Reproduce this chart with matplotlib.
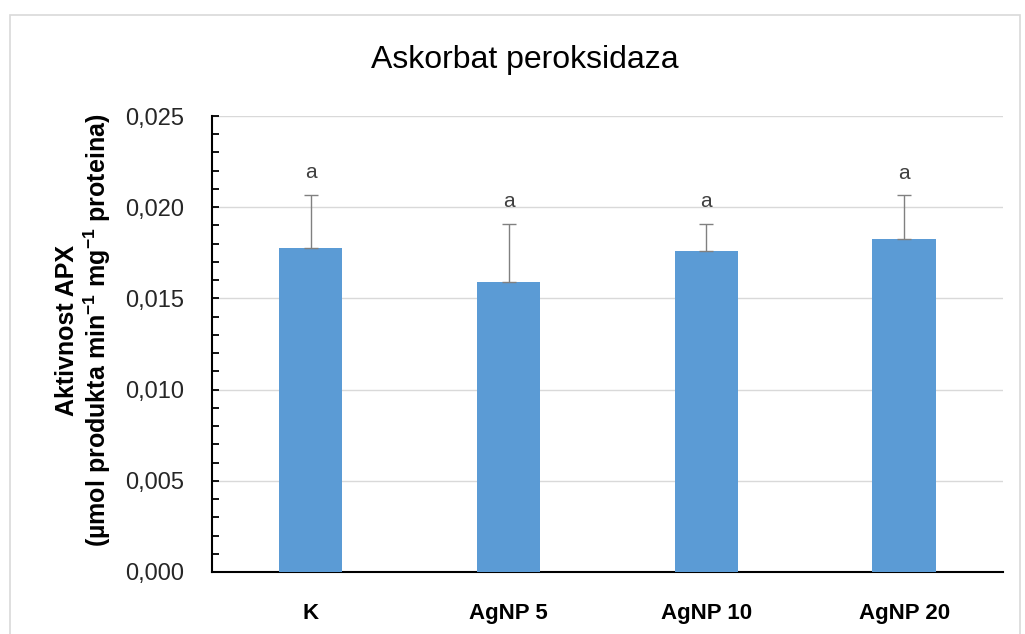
import matplotlib
matplotlib.use('Agg')
import matplotlib.pyplot as plt
from matplotlib.ticker import MultipleLocator, FuncFormatter
from matplotlib.patches import Rectangle

plt.rcParams['font.family'] = ['Liberation Sans', 'DejaVu Sans']
plt.rcParams['mathtext.fontset'] = 'custom'
plt.rcParams['mathtext.rm'] = 'Liberation Sans'
plt.rcParams['mathtext.bf'] = 'Liberation Sans:bold'

# data
groups = ['K', 'AgNP 5', 'AgNP 10', 'AgNP 20']
apx = [0.01776, 0.0159, 0.0176, 0.01825]
sd = [0.0029, 0.0032, 0.0015, 0.0024]
letters = ['a', 'a', 'a', 'a']

fig = plt.figure(figsize=(10.25, 6.34), dpi=100)
ax = fig.add_axes([0.2068, 0.0978, 0.7717, 0.7192])

# chart border
fig.patches.append(Rectangle((0.01, -0.01), 0.985, 0.986, transform=fig.transFigure,
                             fill=False, edgecolor='#d9d9d9', linewidth=1.2))

x = range(len(groups))
ax.bar(x, apx, width=0.32, color='#5b9bd5', zorder=3)
ax.errorbar(x, apx, yerr=[[0]*len(sd), sd], fmt='none', ecolor='#808080',
            elinewidth=1, capsize=5, capthick=1, zorder=4)
for i, (v, e, l) in enumerate(zip(apx, sd, letters)):
    ax.text(i, v + e + 0.0007, l, ha='center', va='bottom', fontsize=15, color='#404040')

ax.set_xlim(-0.5, 3.5)
ax.set_ylim(0, 0.025)
ax.yaxis.set_major_locator(MultipleLocator(0.005))
ax.yaxis.set_minor_locator(MultipleLocator(0.001))
ax.yaxis.set_major_formatter(FuncFormatter(lambda v, p: ('%.3f' % v).replace('.', ',')))
ax.grid(axis='y', color='#d9d9d9', linewidth=1, zorder=0)
ax.set_axisbelow(True)

ax.set_xticks(list(x))
ax.set_xticklabels(groups, fontsize=16, fontweight='bold')
ax.tick_params(axis='x', length=0, pad=22)
ax.tick_params(axis='y', which='both', direction='in', length=5, width=1.3,
               labelsize=17, pad=20, labelcolor='#262626')

for s in ['top', 'right']:
    ax.spines[s].set_visible(False)
ax.spines['left'].set_linewidth(1.5)
ax.spines['bottom'].set_linewidth(1.5)

ax.set_ylabel('Aktivnost APX\n(µmol produkta min$\\mathbf{^{-1}}$ mg$\\mathbf{^{-1}}$ proteina)',
              fontsize=18, fontweight='bold', linespacing=1.1)
ax.yaxis.set_label_coords(-0.125, 0.53)
fig.text(0.512, 0.905, 'Askorbat peroksidaza', ha='center', va='center', fontsize=23)

fig.savefig('out.png', dpi=100)
